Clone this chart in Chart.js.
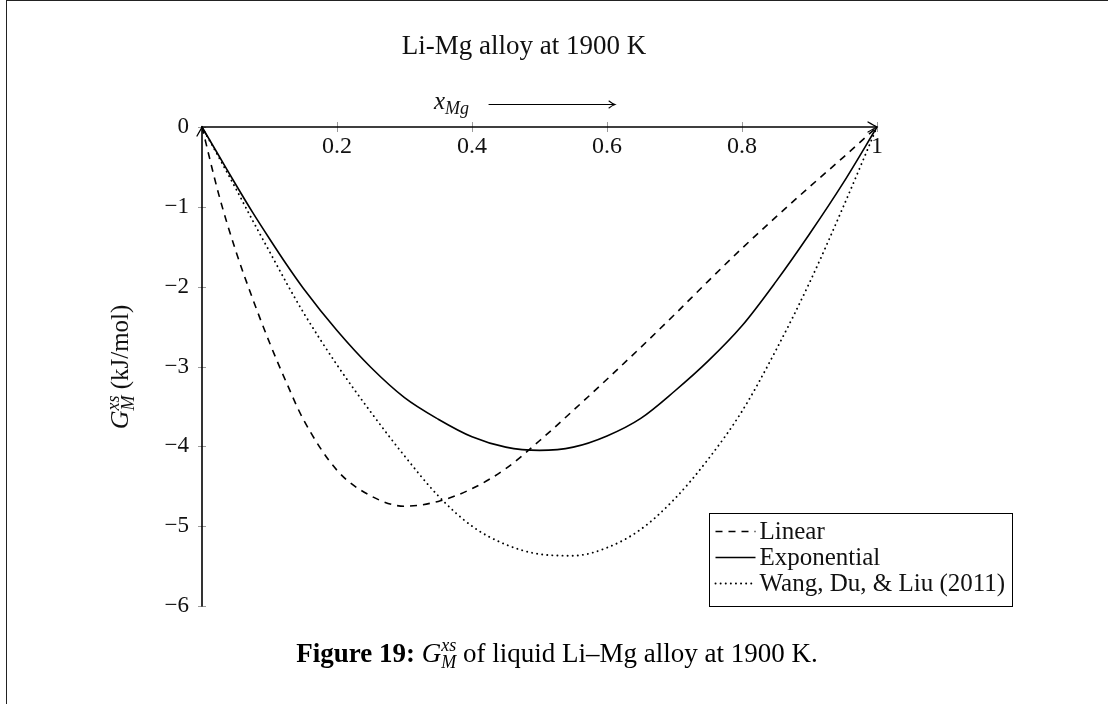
<!DOCTYPE html>
<html><head><meta charset="utf-8">
<script src="https://cdn.jsdelivr.net/npm/chart.js@4.4.1/dist/chart.umd.min.js"></script>
<style>
html,body{margin:0;padding:0;background:#fff;overflow:hidden}
#wrap{position:relative;width:1108px;height:704px;overflow:hidden}
#frame{position:absolute;left:6px;top:0;width:1120px;height:720px;border-left:1.5px solid #222;border-top:1.5px solid #222;box-sizing:border-box}
canvas{position:absolute;left:0;top:0}
</style></head><body>
<div id="wrap"><div id="frame"></div><canvas id="c" width="1108" height="704"></canvas></div>
<script>
// ---- data ----
const xValues = [0, 0.025, 0.05, 0.075, 0.1, 0.125, 0.15, 0.2, 0.25, 0.3, 0.35, 0.4, 0.45, 0.5, 0.55, 0.6, 0.65, 0.7, 0.75, 0.8, 0.85, 0.9, 0.95, 1];
const linearValues = [0, -0.85, -1.55, -2.15, -2.70, -3.20, -3.66, -4.30, -4.62, -4.75, -4.69, -4.53, -4.28, -3.93, -3.55, -3.16, -2.76, -2.35, -1.93, -1.52, -1.13, -0.75, -0.38, 0];
const exponentialValues = [0, -0.36, -0.72, -1.07, -1.40, -1.72, -2.02, -2.55, -3.01, -3.39, -3.66, -3.88, -4.01, -4.05, -4.01, -3.87, -3.65, -3.31, -2.93, -2.49, -1.94, -1.34, -0.70, 0];
const wangValues = [0, -0.38, -0.77, -1.17, -1.56, -1.95, -2.32, -2.98, -3.57, -4.12, -4.62, -5.00, -5.23, -5.35, -5.37, -5.27, -5.04, -4.66, -4.16, -3.56, -2.80, -1.95, -1.00, 0];
const seriesNames = ['Linear', 'Exponential', 'Wang, Du, & Liu (2011)'];
const xTicks = [0.2, 0.4, 0.6, 0.8, 1];
const xTickLabels = ['0.2', '0.4', '0.6', '0.8', '1'];
const yTicks = [0, -1, -2, -3, -4, -5, -6];
const yTickLabels = ['0', '\u22121', '\u22122', '\u22123', '\u22124', '\u22125', '\u22126'];
const titleText = 'Li-Mg alloy at 1900 K';

const SERIF = '"Liberation Serif", "Times New Roman", serif';
const toPts = ys => xValues.map((x, i) => ({x: x, y: ys[i]}));

function richWidth(ctx, parts) {
  let w = 0, last = 0;
  parts.forEach(p => {
    ctx.font = p.font;
    const m = ctx.measureText(p.t).width;
    if (p.stack) { w = w - last + Math.max(last, m); last = Math.max(last, m); }
    else { w += m; last = m; }
  });
  return w;
}
function drawRich(ctx, parts, x, y, align) {
  const total = richWidth(ctx, parts);
  let cx = align === 'center' ? x - total / 2 : (align === 'right' ? x - total : x);
  let lastStart = cx, lastW = 0;
  ctx.textBaseline = 'alphabetic';
  ctx.textAlign = 'left';
  parts.forEach(p => {
    ctx.font = p.font;
    const m = ctx.measureText(p.t).width;
    if (p.stack) {
      ctx.fillText(p.t, lastStart, y + (p.dy || 0));
      const nw = Math.max(lastW, m);
      cx = lastStart + nw; lastW = nw;
    } else {
      ctx.fillText(p.t, cx, y + (p.dy || 0));
      lastStart = cx; lastW = m; cx += m;
    }
  });
}

const texPlugin = {
  id: 'texAxes',
  afterDatasetsDraw(chart) {
    const ctx = chart.ctx;
    const xs = chart.scales.x, ys = chart.scales.y;
    const x0 = xs.getPixelForValue(0), x1 = xs.getPixelForValue(1);
    const y0 = ys.getPixelForValue(0), yB = ys.getPixelForValue(-6);
    const line = (a, b, c, d) => { ctx.beginPath(); ctx.moveTo(a, b); ctx.lineTo(c, d); ctx.stroke(); };
    ctx.save();
    ctx.setLineDash([]);
    // tick marks
    ctx.strokeStyle = '#9a9a9a'; ctx.lineWidth = 1;
    xTicks.forEach(v => { const p = Math.round(xs.getPixelForValue(v)) + 0.5; line(p, y0 - 5, p, y0 + 5); });
    yTicks.forEach(v => { const p = Math.round(ys.getPixelForValue(v)) + 0.5; line(x0 - 4, p, x0 + 4, p); });
    // axis lines
    ctx.strokeStyle = '#000'; ctx.lineWidth = 1.6; ctx.lineCap = 'round';
    line(x0, y0, x1, y0);
    line(x0, yB, x0, y0);
    // arrow tips
    ctx.lineWidth = 1.3;
    ctx.beginPath(); ctx.moveTo(x1 - 9, y0 - 5); ctx.quadraticCurveTo(x1 - 3, y0 - 1.5, x1, y0); ctx.quadraticCurveTo(x1 - 3, y0 + 1.5, x1 - 9, y0 + 5); ctx.stroke();
    ctx.beginPath(); ctx.moveTo(x0 - 5, y0 + 9); ctx.quadraticCurveTo(x0 - 1.5, y0 + 3, x0, y0); ctx.quadraticCurveTo(x0 + 1.5, y0 + 3, x0 + 5, y0 + 9); ctx.stroke();
    // tick labels
    ctx.fillStyle = '#111';
    ctx.font = '24px ' + SERIF;
    ctx.textAlign = 'center'; ctx.textBaseline = 'middle';
    xTicks.forEach((v, i) => ctx.fillText(xTickLabels[i], xs.getPixelForValue(v), y0 + 20));
    ctx.textAlign = 'right';
    ctx.font = '23px ' + SERIF;
    yTicks.forEach((v, i) => ctx.fillText(yTickLabels[i], x0 - 13, ys.getPixelForValue(v)));
    // title
    ctx.textAlign = 'center'; ctx.textBaseline = 'alphabetic';
    ctx.font = '27px ' + SERIF;
    ctx.fillText(titleText, 524, 54);
    // x axis label with arrow
    const it = 'italic 25px ' + SERIF, itS = 'italic 18px ' + SERIF;
    drawRich(ctx, [{t: 'x', font: it}, {t: 'Mg', font: itS, dy: 5}], 434, 109, 'left');
    ctx.lineWidth = 1.1;
    line(489, 104.5, 614, 104.5);
    ctx.beginPath(); ctx.moveTo(609, 101); ctx.quadraticCurveTo(612, 103.5, 615, 104.5); ctx.quadraticCurveTo(612, 105.5, 609, 108); ctx.stroke();
    // y axis label (rotated)
    ctx.save();
    ctx.translate(128, 367); ctx.rotate(-Math.PI / 2);
    drawRich(ctx, [
      {t: 'G', font: 'italic 26px ' + SERIF},
      {t: 'xs', font: 'italic 18px ' + SERIF, dy: -9},
      {t: 'M', font: 'italic 18px ' + SERIF, dy: 6, stack: true},
      {t: ' (kJ/mol)', font: '25px ' + SERIF}
    ], 0, 0, 'center');
    ctx.restore();
    // legend
    const lx = 709.5, ly = 513.5, lw = 303, lh = 93;
    ctx.fillStyle = '#fff'; ctx.fillRect(lx, ly, lw, lh);
    ctx.strokeStyle = '#000'; ctx.lineWidth = 1; ctx.lineCap = 'butt';
    ctx.strokeRect(lx, ly, lw, lh);
    chart.data.datasets.forEach((ds, i) => {
      const cy = ly + 18 + i * 26;
      ctx.strokeStyle = ds.borderColor; ctx.lineWidth = ds.borderWidth;
      ctx.lineCap = ds.borderCapStyle || 'butt';
      ctx.setLineDash(ds.borderDash || []);
      line(lx + 6, cy, lx + 46, cy);
      ctx.setLineDash([]);
      ctx.fillStyle = '#111';
      ctx.font = '25px ' + SERIF; ctx.textAlign = 'left'; ctx.textBaseline = 'middle';
      ctx.fillText(ds.label, lx + 50, cy + 1);
    });
    // caption
    ctx.fillStyle = '#000';
    drawRich(ctx, [
      {t: 'Figure 19: ', font: 'bold 27px ' + SERIF},
      {t: 'G', font: 'italic 27px ' + SERIF},
      {t: 'xs', font: 'italic 18px ' + SERIF, dy: -11},
      {t: 'M', font: 'italic 18px ' + SERIF, dy: 6, stack: true},
      {t: ' of liquid Li\u2013Mg alloy at 1900 K.', font: '27px ' + SERIF}
    ], 557, 662, 'center');
    ctx.restore();
  }
};

const common = {showLine: true, pointRadius: 0, borderColor: '#000', borderWidth: 1.6, cubicInterpolationMode: 'monotone', clip: false, fill: false};
new Chart(document.getElementById('c'), {
  type: 'scatter',
  data: {
    datasets: [
      Object.assign({}, common, {label: seriesNames[0], data: toPts(linearValues), borderDash: [7, 6]}),
      Object.assign({}, common, {label: seriesNames[1], data: toPts(exponentialValues), borderDash: []}),
      Object.assign({}, common, {label: seriesNames[2], data: toPts(wangValues), borderDash: [0.1, 5], borderWidth: 1.9, borderCapStyle: 'round'})
    ]
  },
  options: {
    responsive: false, animation: false, devicePixelRatio: 1,
    layout: {padding: {left: 202, top: 127, right: 231, bottom: 98}},
    scales: {
      x: {type: 'linear', min: 0, max: 1, display: false},
      y: {type: 'linear', min: -6, max: 0, display: false}
    },
    plugins: {legend: {display: false}, title: {display: false}, tooltip: {enabled: false}}
  },
  plugins: [texPlugin]
});
</script>
</body></html>
